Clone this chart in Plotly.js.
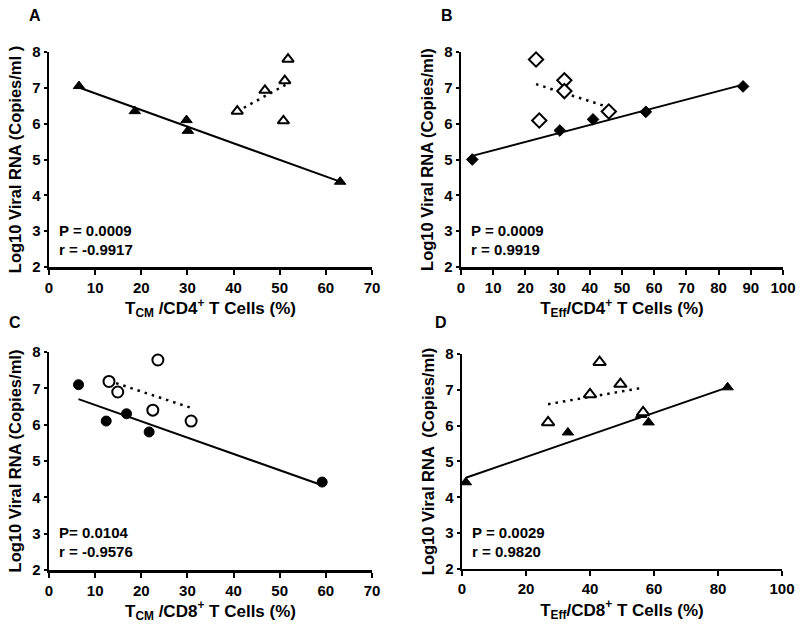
<!DOCTYPE html>
<html>
<head>
<meta charset="utf-8">
<script src="https://cdn.plot.ly/plotly-3.0.1.min.js"></script>
<style>html,body{margin:0;padding:0;background:#fff;}#chart{width:800px;height:632px;}</style>
</head>
<body>
<div id="chart"></div>
<script>
// Panel A: TCM / CD4+ T cells (%)
const aFilledX = [6.5, 18.6, 29.8, 30.1, 63.1];
const aFilledY = [7.05, 6.35, 6.1, 5.8, 4.38];
const aOpenX = [40.8, 46.8, 51.1, 51.8, 50.8];
const aOpenY = [6.35, 6.93, 7.2, 7.8, 6.08];
// Panel B: TEff / CD4+ T cells (%)
const bFilledX = [3.5, 30.7, 41.0, 57.4, 87.6];
const bFilledY = [5.0, 5.81, 6.12, 6.33, 7.04];
const bOpenX = [23.3, 24.3, 32.1, 32.1, 45.9];
const bOpenY = [7.79, 6.09, 7.21, 6.91, 6.34];
// Panel C: TCM / CD8+ T cells (%)
const cFilledX = [6.4, 12.4, 16.8, 21.7, 59.2];
const cFilledY = [7.1, 6.1, 6.3, 5.8, 4.42];
const cOpenX = [13.0, 14.9, 22.5, 23.6, 30.8];
const cOpenY = [7.19, 6.9, 6.4, 7.78, 6.1];
// Panel D: TEff / CD8+ T cells (%)
const dFilledX = [1.2, 33.1, 56.0, 58.3, 83.0];
const dFilledY = [4.42, 5.81, 6.3, 6.09, 7.07];
const dOpenX = [26.9, 40.0, 43.0, 49.5, 56.6];
const dOpenY = [6.09, 6.87, 7.77, 7.16, 6.37];

const panelLabels = ["A", "B", "C", "D"];
const xTitles = [
  "T<sub>CM</sub> /CD4<sup>+</sup> T Cells (%)",
  "T<sub>Eff</sub>/CD4<sup>+</sup> T Cells (%)",
  "T<sub>CM</sub> /CD8<sup>+</sup> T Cells (%)",
  "T<sub>Eff</sub>/CD8<sup>+</sup> T Cells (%)"
];
const yTitles = [
  "Log10 Viral RNA (Copies/ml )",
  "Log10 Viral RNA (Copies/ml)",
  "Log10 Viral RNA (Copies/ml)",
  "Log10 Viral RNA  (Copies/ml)"
];
const statP = ["P = 0.0009", "P = 0.0009", "P= 0.0104", "P = 0.0029"];
const statR = ["r = -0.9917", "r = 0.9919", "r = -0.9576", "r = 0.9820"];
const xMax = [70, 100, 70, 100];
const xDtick = [10, 10, 10, 20];

function fit(xs, ys) {
  const n = xs.length;
  const mx = xs.reduce((a, b) => a + b, 0) / n;
  const my = ys.reduce((a, b) => a + b, 0) / n;
  let sxy = 0, sxx = 0;
  for (let i = 0; i < n; i++) { sxy += (xs[i] - mx) * (ys[i] - my); sxx += (xs[i] - mx) ** 2; }
  const s = sxy / sxx;
  const x0 = Math.min(...xs), x1 = Math.max(...xs);
  return { x: [x0, x1], y: [my + s * (x0 - mx), my + s * (x1 - mx)] };
}

const panels = [
  { fx: aFilledX, fy: aFilledY, ox: aOpenX, oy: aOpenY, sym: "triangle-up", fs: 10, os: 10 },
  { fx: bFilledX, fy: bFilledY, ox: bOpenX, oy: bOpenY, sym: "diamond", fs: 9, os: 11 },
  { fx: cFilledX, fy: cFilledY, ox: cOpenX, oy: cOpenY, sym: "circle", fs: 10, os: 11 },
  { fx: dFilledX, fy: dFilledY, ox: dOpenX, oy: dOpenY, sym: "triangle-up", fs: 10, os: 11 }
];

const FONT = "Liberation Sans, Arial, Helvetica, sans-serif";
const traces = [];
panels.forEach((p, i) => {
  const xa = i === 0 ? "x" : "x" + (i + 1);
  const ya = i === 0 ? "y" : "y" + (i + 1);
  const sf = fit(p.fx, p.fy);
  const of = fit(p.ox, p.oy);
  traces.push({ x: sf.x, y: sf.y, xaxis: xa, yaxis: ya, mode: "lines", line: { color: "#000", width: 2 }, showlegend: false, hoverinfo: "skip" });
  traces.push({ x: of.x, y: of.y, xaxis: xa, yaxis: ya, mode: "lines", line: { color: "#000", width: 2.5, dash: "2.5px,5px" }, showlegend: false, hoverinfo: "skip" });
  traces.push({ x: p.fx, y: p.fy, xaxis: xa, yaxis: ya, mode: "markers", marker: { symbol: p.sym, size: p.fs, color: "#000", line: { color: "#000", width: 1 } }, showlegend: false, cliponaxis: false });
  traces.push({ x: p.ox, y: p.oy, xaxis: xa, yaxis: ya, mode: "markers", marker: { symbol: p.sym, size: p.os, color: "#fff", line: { color: "#000", width: 2 } }, showlegend: false, cliponaxis: false });
});

const xDomains = [[0.06125, 0.465], [0.57625, 0.97875], [0.06125, 0.465], [0.5775, 0.9775]];
const yDomains = [[0.5775, 0.9177], [0.5775, 0.9177], [0.0981, 0.443], [0.0997, 0.4399]];

const layout = {
  width: 800, height: 632,
  margin: { l: 0, r: 0, t: 0, b: 0 },
  paper_bgcolor: "#fff", plot_bgcolor: "#fff",
  font: { family: FONT, color: "#000", size: 14 },
  showlegend: false,
  annotations: []
};

const labelPos = [[0.034, 0.976], [0.549, 0.976], [0.009, 0.49], [0.541, 0.49]];

for (let i = 0; i < 4; i++) {
  const sx = i === 0 ? "" : String(i + 1);
  layout["xaxis" + sx] = {
    domain: xDomains[i], anchor: "y" + sx, range: [0, xMax[i]], dtick: xDtick[i], tick0: 0,
    showgrid: false, zeroline: false, showline: true, linecolor: "#000", linewidth: 2.5,
    ticks: "outside", ticklen: 5, tickwidth: 2, tickcolor: "#000",
    tickfont: { family: FONT, size: 15, weight: "bold", color: "#000" },
    title: { text: xTitles[i], font: { family: FONT, size: 17, weight: "bold", color: "#000" }, standoff: 3 },
    fixedrange: true
  };
  layout["yaxis" + sx] = {
    domain: yDomains[i], anchor: "x" + sx, range: [2, 8], dtick: 1, tick0: 2,
    showgrid: false, zeroline: false, showline: true, linecolor: "#000", linewidth: 2.5,
    ticks: "outside", ticklen: 3, tickwidth: 2, tickcolor: "#000",
    tickfont: { family: FONT, size: 15, weight: "bold", color: "#000" },
    title: { text: yTitles[i], font: { family: FONT, size: 16.5, weight: "bold", color: "#000" }, standoff: 7 },
    fixedrange: true
  };
  layout.annotations.push({ xref: "paper", yref: "paper", x: labelPos[i][0], y: labelPos[i][1], text: panelLabels[i], showarrow: false, xanchor: "left", yanchor: "middle", font: { family: FONT, size: 16, weight: "bold", color: "#000" } });
  layout.annotations.push({ xref: "x" + sx + " domain", yref: "y" + sx, x: 0.025, y: 3.02, text: statP[i], showarrow: false, xanchor: "left", yanchor: "middle", font: { family: FONT, size: 15, weight: "bold", color: "#000" } });
  layout.annotations.push({ xref: "x" + sx + " domain", yref: "y" + sx, x: 0.025, y: 2.5, text: statR[i], showarrow: false, xanchor: "left", yanchor: "middle", font: { family: FONT, size: 15, weight: "bold", color: "#000" } });
}

Plotly.newPlot("chart", traces, layout, { staticPlot: true, displayModeBar: false });
</script>
</body>
</html>
